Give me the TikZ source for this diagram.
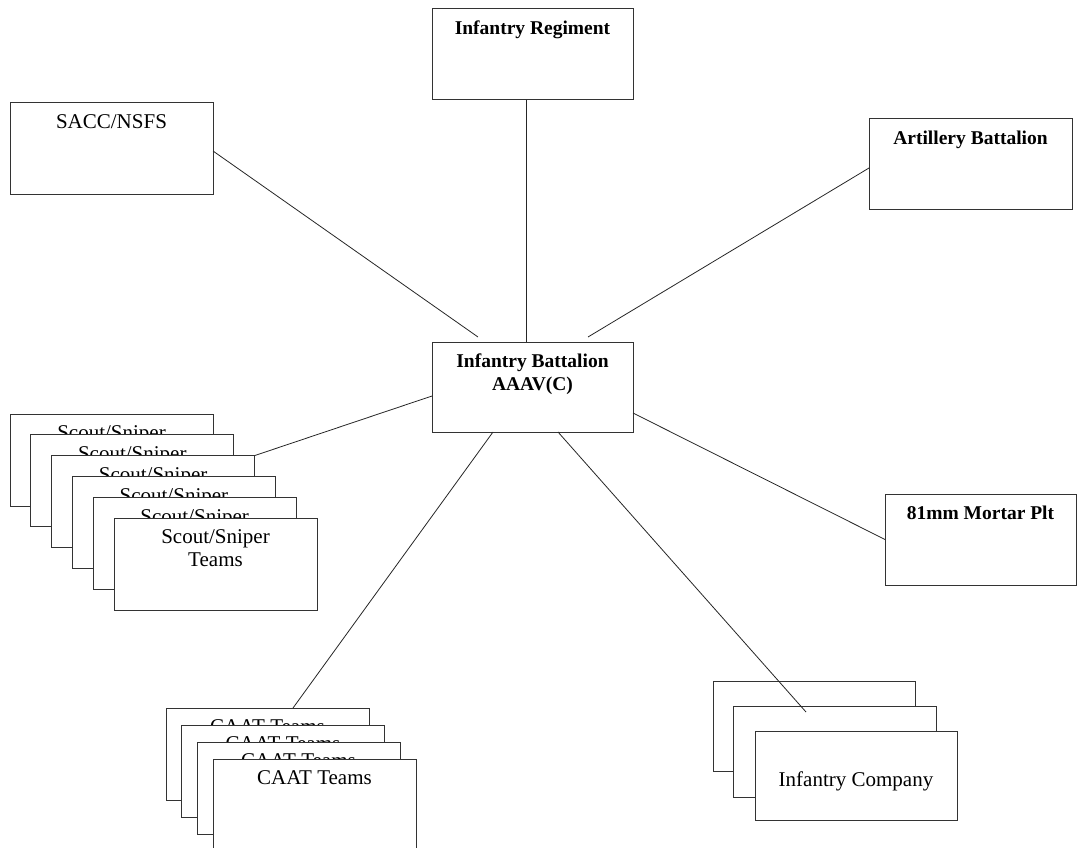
\documentclass[tikz,border=0pt]{standalone}
\usepackage{fontspec}
\setmainfont{Liberation Serif}
\usetikzlibrary{calc}
\tikzset{
  box/.style={draw=black!80, line width=1pt, fill=white, anchor=north west,
    inner sep=0pt, outer sep=0pt},
  lbl/.style={anchor=north, inner sep=0pt, outer sep=0pt, align=center,
    font=\fontsize{21}{23}\selectfont, yshift=-12pt},
  blbl/.style={anchor=north, inner sep=0pt, outer sep=0pt, align=center,
    font=\fontsize{19.5}{23}\selectfont\bfseries, yshift=-12pt},
  clbl/.style={anchor=center, inner sep=0pt, outer sep=0pt, align=center,
    font=\fontsize{21}{23}\selectfont, yshift=-5.5pt},
  conn/.style={draw=black!85, line width=0.8pt}
}
\begin{document}
\begin{tikzpicture}[x=1pt,y=-1pt]
\useasboundingbox (0,0) rectangle (1081,848);

% top boxes
\node[box, minimum width=201pt, minimum height=91pt,
  label={[blbl]north:Infantry Regiment}] (ir) at (432,9) {};
\node[box, minimum width=203pt, minimum height=91pt,
  label={[lbl]north:SACC/NSFS}] (sacc) at (10,103) {};
\node[box, minimum width=203pt, minimum height=90pt,
  label={[blbl]north:Artillery Battalion}] (art) at (869,119) {};

% centre
\node[box, minimum width=201pt, minimum height=90pt,
  label={[blbl]north:Infantry Battalion\\AAAV(C)}] (ibn) at (432,342) {};

% mortar
\node[box, minimum width=191pt, minimum height=91pt,
  label={[blbl]north:81mm Mortar Plt}] (mort) at (885,494) {};

% scout/sniper stack
\node[box, minimum width=203pt, minimum height=92pt,
  label={[lbl]north:Scout/Sniper\\Teams}] (s1) at (10,414) {};
\node[box, minimum width=203pt, minimum height=92pt,
  label={[lbl]north:Scout/Sniper\\Teams}] (s2) at (30.8,434.8) {};
\node[box, minimum width=203pt, minimum height=92pt,
  label={[lbl]north:Scout/Sniper\\Teams}] (s3) at (51.6,455.6) {};
\node[box, minimum width=203pt, minimum height=92pt,
  label={[lbl]north:Scout/Sniper\\Teams}] (s4) at (72.4,476.4) {};
\node[box, minimum width=203pt, minimum height=92pt,
  label={[lbl]north:Scout/Sniper\\Teams}] (s5) at (93.2,497.2) {};
\node[box, minimum width=203pt, minimum height=92pt,
  label={[lbl]north:Scout/Sniper\\Teams}] (s6) at (114,518) {};

% CAAT stack
\node[box, minimum width=203pt, minimum height=92pt,
  label={[lbl]north:CAAT Teams}] (c1) at (166,708) {};
\node[box, minimum width=203pt, minimum height=92pt,
  label={[lbl]north:CAAT Teams}] (c2) at (181.5,725) {};
\node[box, minimum width=203pt, minimum height=92pt,
  label={[lbl]north:CAAT Teams}] (c3) at (197,742) {};
\node[box, minimum width=203pt, minimum height=92pt,
  label={[lbl]north:CAAT Teams}] (c4) at (213,759) {};

% Infantry company stack
\node[box, minimum width=202pt, minimum height=90pt,
  label={[clbl]center:Infantry Company}] (co1) at (713,681) {};
\node[box, minimum width=203pt, minimum height=91pt,
  label={[clbl]center:Infantry Company}] (co2) at (733,706) {};
\node[box, minimum width=202pt, minimum height=89pt,
  label={[clbl]center:Infantry Company}] (co3) at (755,731) {};

% free ends
\coordinate (eS) at (478,337);
\coordinate (eA) at (588,337);
\coordinate (eC) at (806,712);

% connectors
\draw[conn] ($(sacc.east)+(0,2.5)$) -- (eS);
\draw[conn] ($(ir.south)+(-6.5,0)$) coordinate (t) -- (t |- ibn.north);
\draw[conn] ($(art.west)+(0,4)$) -- (eA);
\draw[conn] ($(ibn.east)+(0,26)$) -- (mort.west);
\draw[conn] (s3.north east) -- ($(ibn.west)+(0,9)$);
\draw[conn] ($(ibn.south)+(-39.5,0)$) -- ($(c1.north)+(25.5,0)$);
\draw[conn] ($(ibn.south)+(25.5,0)$) -- (eC);
\end{tikzpicture}
\end{document}
